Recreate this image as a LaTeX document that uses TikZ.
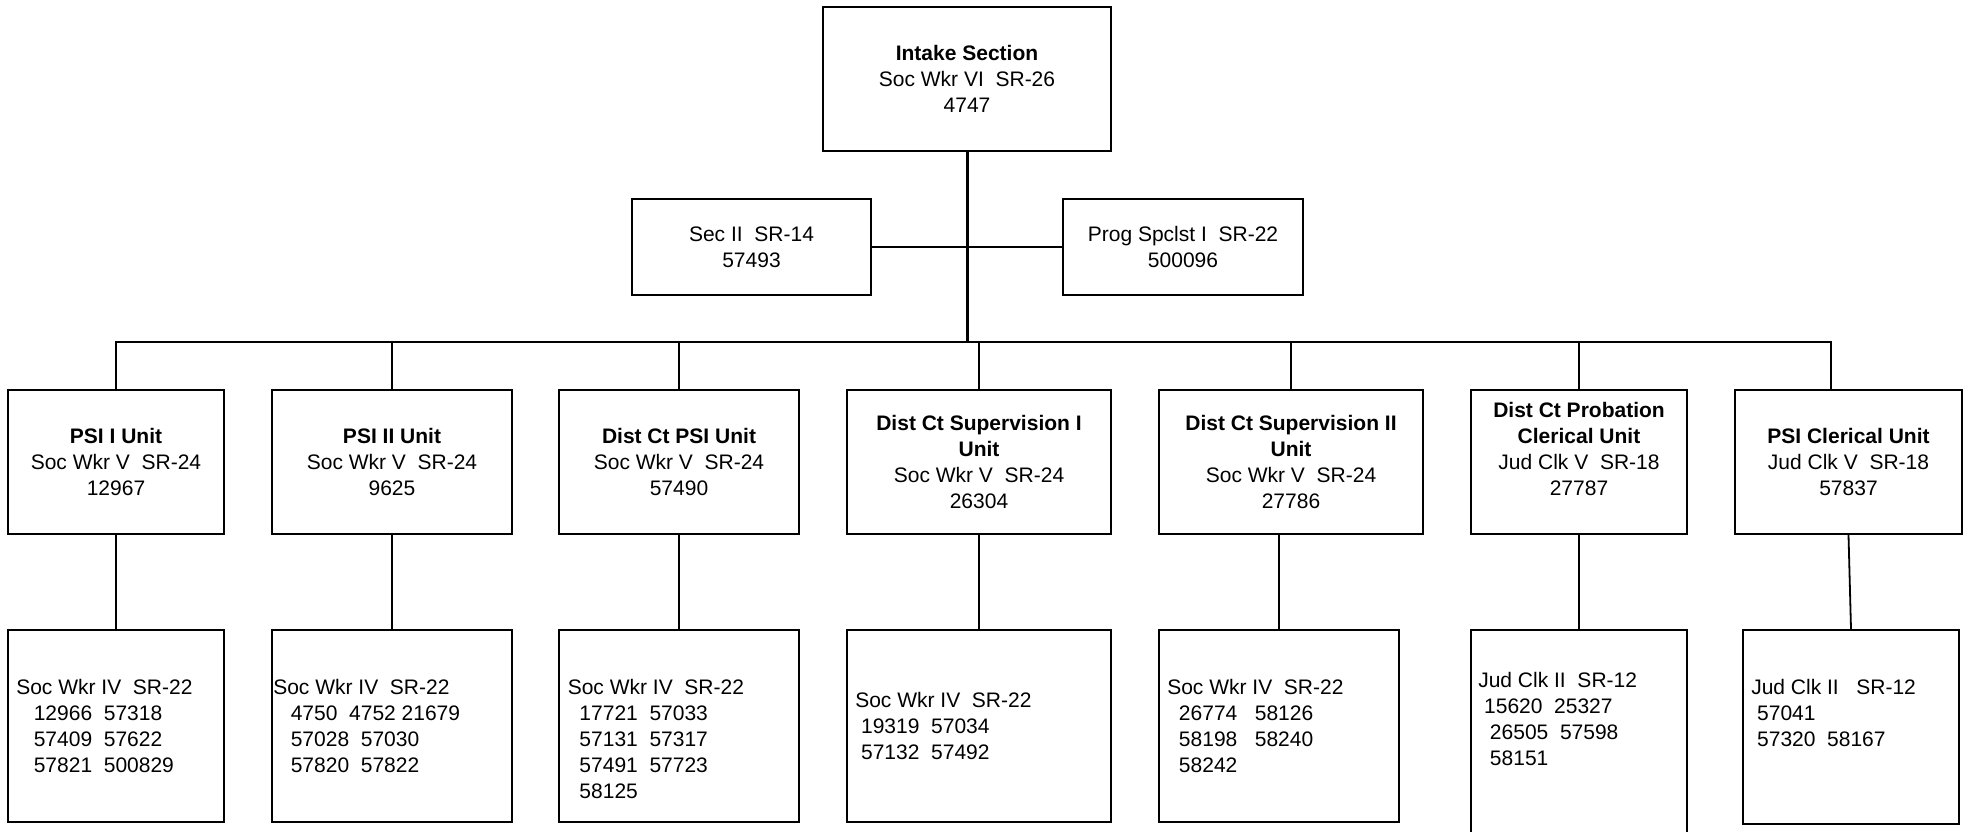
\documentclass[tikz,border=0pt]{standalone}
\usepackage{fontspec}
\setmainfont{Liberation Sans}
\usetikzlibrary{positioning}
\newcommand{\ind}[1]{\hspace*{#1\fontdimen2\font}}

\begin{document}
\begin{tikzpicture}[x=1pt, y=-1pt,
	font={\fontsize{21}{26}\selectfont},
	unit/.style={draw, line width=1.8pt, align=center, inner sep=0pt, minimum height=144pt},
	staff/.style={draw, line width=1.8pt, inner sep=0pt, minimum height=192pt},
	list/.style={align=left, inner sep=0pt},
	link/.style={line width=1.8pt},
	trunk/.style={line width=3pt},
	busline/.style={line width=2.4pt}]
	\useasboundingbox (0,0) rectangle (1971,831);
	\clip (0,0) rectangle (1971,831);

	% section head
	\node[unit, minimum width=288pt] (intake) at (967,79) {\textbf{Intake Section}\\Soc Wkr VI~ SR-26\\4747};
	\node[unit, minimum width=239pt, minimum height=96pt] (sec) at (751.5,247) {Sec II~ SR-14\\57493};
	\node[unit, minimum width=240pt, minimum height=96pt] (prog) at (1183,247) {Prog Spclst I~ SR-22\\500096};
	\coordinate (bus) at (967,342);

	% units
	\node[unit, minimum width=216pt] (psiI) at (116,462) {\textbf{PSI I Unit}\\Soc Wkr V~ SR-24\\12967};
	\node[unit, minimum width=240pt] (psiII) at (392,462) {\textbf{PSI II Unit}\\Soc Wkr V~ SR-24\\9625};
	\node[unit, minimum width=240pt] (dcpsi) at (679,462) {\textbf{Dist Ct PSI Unit}\\Soc Wkr V~ SR-24\\57490};
	\node[unit, minimum width=264pt] (dcsupI) at (979,462) {\textbf{Dist Ct Supervision I}\\\textbf{Unit}\\Soc Wkr V~ SR-24\\26304};
	\node[unit, minimum width=264pt] (dcsupII) at (1291,462) {\textbf{Dist Ct Supervision II}\\\textbf{Unit}\\Soc Wkr V~ SR-24\\27786};
	\node[unit, minimum width=216pt] (dcprob) at (1579,462) {\textbf{Dist Ct Probation}\\\textbf{Clerical Unit}\\Jud Clk V~ SR-18\\27787\\\mbox{}};
	\node[unit, minimum width=227pt] (psicler) at (1848.5,462) {\textbf{PSI Clerical Unit}\\Jud Clk V~ SR-18\\57837};
	\coordinate (clerktap) at ([xshift=-17.5pt]psicler.north);

	% staff boxes
	\node[staff, minimum width=216pt] (psiI-staff) at (116,726) {};
	\node[staff, minimum width=240pt] (psiII-staff) at (392,726) {};
	\node[staff, minimum width=240pt] (dcpsi-staff) at (679,726) {};
	\node[staff, minimum width=264pt] (dcsupI-staff) at (979,726) {};
	\node[staff, minimum width=240pt] (dcsupII-staff) at (1279,726) {};
	\node[staff, minimum width=216pt, minimum height=220pt] (dcprob-staff) at (1579,740) {};
	\node[staff, minimum width=216pt, minimum height=194pt] (psicler-staff) at (1851,727) {};

	\node[list, below right=50pt and 9pt of psiI-staff.north west] (psiI-list) {Soc Wkr IV~ SR-22\\\ind{3}12966~ 57318\\\ind{3}57409~ 57622\\\ind{3}57821~ 500829};
	\node[list, below right=50pt and 2pt of psiII-staff.north west] (psiII-list) {Soc Wkr IV~ SR-22\\\ind{3}4750~ 4752 21679\\\ind{3}57028~ 57030\\\ind{3}57820~ 57822};
	\node[list, below right=50pt and 9.5pt of dcpsi-staff.north west] (dcpsi-list) {Soc Wkr IV~ SR-22\\\ind{2}17721~ 57033\\\ind{2}57131~ 57317\\\ind{2}57491~ 57723\\\ind{2}58125};
	\node[list, below right=63pt and 9pt of dcsupI-staff.north west] (dcsupI-list) {Soc Wkr IV~ SR-22\\\ind{1}19319~ 57034\\\ind{1}57132~ 57492};
	\node[list, below right=50pt and 9pt of dcsupII-staff.north west] (dcsupII-list) {Soc Wkr IV~ SR-22\\\ind{2}26774~~ 58126\\\ind{2}58198~~ 58240\\\ind{2}58242};
	\node[list, below right=43pt and 8pt of dcprob-staff.north west] (dcprob-list) {Jud Clk II~ SR-12\\\ind{1}15620~ 25327\\\ind{2}26505~ 57598\\\ind{2}58151};
	\node[list, below right=50pt and 9pt of psicler-staff.north west] (psicler-list) {Jud Clk II~~ SR-12\\\ind{1}57041\\\ind{1}57320~ 58167};

	% lines
	\draw[trunk] (intake.south) -- (intake.south |- bus);
	\draw[link] (sec.east) -- (prog.west);
	\draw[busline] (psiI.north) -- (psiI.north |- bus) -- (clerktap |- bus) -- (clerktap);
	\foreach \u in {psiII,dcpsi,dcsupI,dcsupII,dcprob}
		\draw[link] (\u.north) -- (\u.north |- bus);
	\foreach \u in {psiI,psiII,dcpsi,dcsupI,dcprob,psicler}
		\draw[link] (\u.south) -- (\u-staff.north);
	\draw[link] (dcsupII-staff.north) -- (dcsupII-staff.north |- dcsupII.south);
\end{tikzpicture}
\end{document}
